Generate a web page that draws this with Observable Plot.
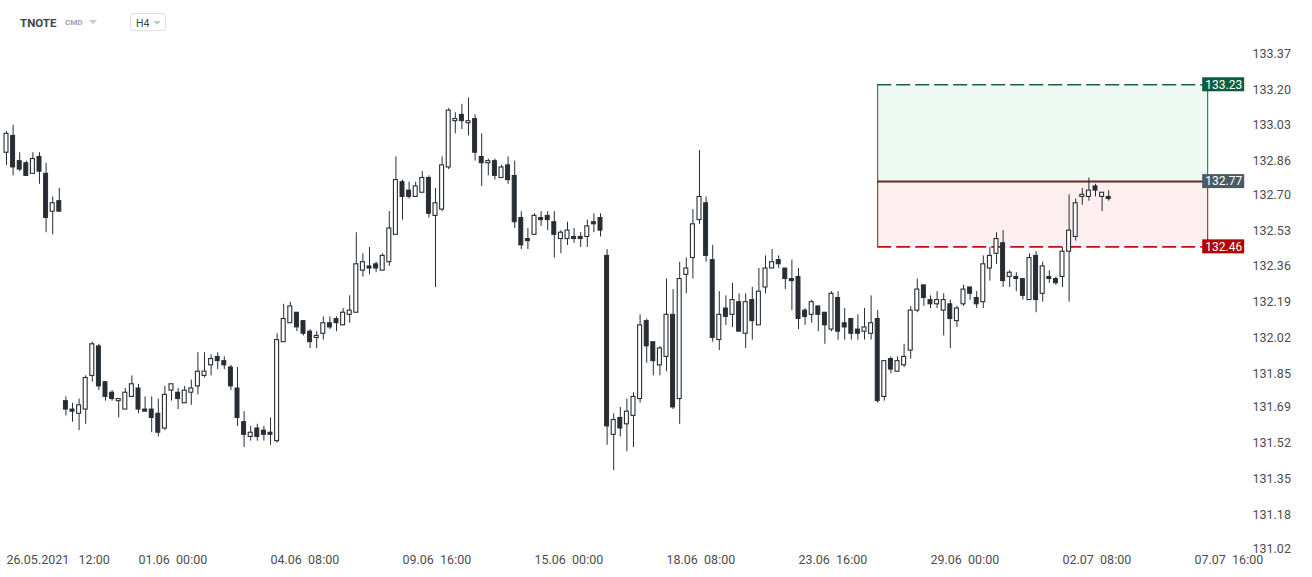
<!DOCTYPE html>
<html>
<head>
<meta charset="utf-8">
<script src="https://cdn.jsdelivr.net/npm/d3@7"></script>
<script src="https://cdn.jsdelivr.net/npm/@observablehq/plot@0.6"></script>
<style>
  html, body { margin: 0; padding: 0; background: #fff; }
  body { width: 1312px; height: 577px; overflow: hidden; font-family: Roboto, "Noto Sans", sans-serif; }
  #hdr { position: relative; height: 40px; }
  #hdr .sym { position: absolute; left: 20px; top: 16px; font-size: 11.5px; font-weight: 700; color: #3b444d; }
  #hdr .cmd { position: absolute; left: 65px; top: 18px; font-size: 8px; font-weight: 700; color: #9aa4ad; }
  #hdr .car1 { position: absolute; left: 89px; top: 20px; width: 0; height: 0; border-left: 4px solid transparent; border-right: 4px solid transparent; border-top: 4px solid #c3c9ce; }
  #hdr .tf { position: absolute; left: 130px; top: 13px; width: 36px; height: 18px; border: 1px solid #dde2e6; border-radius: 3px; box-sizing: border-box; }
  #hdr .tf span { position: absolute; left: 5px; top: 2.5px; font-size: 10.5px; color: #3b444d; }
  #hdr .tf i { position: absolute; left: 22px; top: 6.5px; width: 0; height: 0; border-left: 4px solid transparent; border-right: 4px solid transparent; border-top: 4px solid #c3c9ce; }
</style>
</head>
<body>
<div id="hdr">
  <span class="sym">TNOTE</span>
  <span class="cmd">CMD</span>
  <span class="car1"></span>
  <div class="tf"><span>H4</span><i></i></div>
</div>
<div id="chart"></div>
<script>
// ---- data (H4 candles) ----
const open = [132.90,132.98,132.86,132.85,132.80,132.88,132.80,132.62,132.67,131.72,
131.68,131.66,131.68,131.84,131.98,131.81,131.76,131.72,131.68,131.74,
131.78,131.68,131.68,131.66,131.59,131.77,131.76,131.71,131.76,131.79,
131.84,131.89,131.93,131.91,131.88,131.78,131.62,131.55,131.59,131.58,
131.57,131.53,132.00,132.09,132.14,132.10,132.05,132.02,132.04,132.09,
132.11,132.08,132.13,132.14,132.34,132.36,132.37,132.34,132.38,132.51,
132.76,132.72,132.69,132.71,132.78,132.60,132.63,132.83,133.05,133.08,
133.04,133.06,132.88,132.85,132.86,132.78,132.84,132.79,132.59,132.49,
132.51,132.59,132.60,132.57,132.49,132.49,132.50,132.50,132.50,132.57,
132.59,132.41,131.56,131.64,131.61,131.65,131.73,132.10,132.00,131.89,
131.93,132.13,131.73,132.32,132.40,132.58,132.66,132.39,132.01,132.16,
132.13,132.19,132.04,132.20,132.08,132.26,132.35,132.39,132.35,132.30,
132.31,132.15,132.13,132.17,132.14,132.06,132.21,132.09,132.11,132.06,
132.05,132.04,132.11,131.74,131.92,131.86,131.89,131.96,132.15,132.27,
132.20,132.18,132.15,132.18,132.10,132.18,132.26,132.21,132.19,132.35,
132.42,132.47,132.31,132.31,132.30,132.20,132.41,132.23,132.31,132.30,
132.31,132.43,132.50,132.69,132.69,132.74,132.69,132.69];
const high = [133.00,133.03,132.90,132.86,132.90,132.90,132.85,132.69,132.73,131.74,
131.71,131.73,131.84,132.00,131.99,131.81,131.77,131.73,131.78,131.84,
131.80,131.74,131.74,131.73,131.79,131.80,131.78,131.79,131.82,131.95,
131.95,131.94,131.95,131.93,131.89,131.88,131.67,131.60,131.61,131.60,
131.64,132.04,132.18,132.19,132.14,132.10,132.06,132.05,132.12,132.12,
132.12,132.16,132.22,132.52,132.42,132.45,132.38,132.42,132.62,132.88,
132.77,132.76,132.76,132.81,132.79,132.73,132.88,133.11,133.09,133.13,
133.16,133.08,132.99,132.87,132.87,132.84,132.88,132.86,132.62,132.54,
132.61,132.62,132.62,132.62,132.53,132.57,132.54,132.52,132.58,132.61,
132.61,132.44,131.66,131.69,131.73,131.76,132.13,132.11,132.00,131.98,
132.30,132.25,132.38,132.40,132.63,132.91,132.69,132.46,132.24,132.22,
132.28,132.23,132.23,132.26,132.35,132.41,132.44,132.41,132.35,132.39,
132.35,132.16,132.20,132.17,132.14,132.24,132.24,132.16,132.11,132.13,
132.16,132.22,132.15,131.91,131.93,131.93,131.99,132.17,132.30,132.27,
132.22,132.24,132.23,132.20,132.17,132.27,132.26,132.24,132.41,132.45,
132.52,132.53,132.34,132.33,132.30,132.42,132.43,132.38,132.34,132.31,
132.45,132.70,132.68,132.73,132.78,132.75,132.71,132.72];
const low = [132.84,132.79,132.81,132.79,132.80,132.75,132.52,132.51,132.62,131.65,
131.62,131.58,131.61,131.81,131.77,131.72,131.72,131.64,131.68,131.74,
131.66,131.67,131.57,131.55,131.58,131.72,131.68,131.71,131.70,131.75,
131.83,131.84,131.87,131.87,131.77,131.60,131.50,131.53,131.53,131.53,
131.51,131.52,132.00,132.09,132.05,132.03,131.97,131.97,132.01,132.06,
132.05,132.08,132.09,132.14,132.31,132.32,132.33,132.34,132.36,132.51,
132.58,132.68,132.69,132.71,132.59,132.26,132.62,132.82,132.99,133.01,
132.98,132.86,132.74,132.79,132.77,132.78,132.75,132.54,132.44,132.44,
132.51,132.55,132.53,132.40,132.42,132.46,132.47,132.45,132.45,132.52,
132.50,131.51,131.39,131.55,131.48,131.50,131.71,131.90,131.84,131.84,
131.86,131.68,131.61,132.23,132.30,132.56,132.38,132.00,131.96,132.08,
132.07,132.05,131.97,132.01,132.08,132.23,132.35,132.35,132.25,132.15,
132.06,132.08,132.09,132.05,131.99,132.05,132.01,132.01,132.01,132.01,
132.01,132.01,131.71,131.72,131.85,131.86,131.88,131.92,132.14,132.17,
132.16,132.16,132.03,131.97,132.07,132.17,132.20,132.16,132.16,132.29,
132.37,132.26,132.26,132.24,132.20,132.20,132.14,132.19,132.28,132.27,
132.26,132.19,132.48,132.65,132.67,132.69,132.62,132.67];
const close = [132.99,132.83,132.82,132.79,132.87,132.81,132.59,132.66,132.62,131.68,
131.67,131.70,131.83,131.99,131.79,131.74,131.73,131.73,131.76,131.80,
131.68,131.67,131.64,131.57,131.75,131.80,131.73,131.77,131.78,131.86,
131.86,131.92,131.91,131.89,131.79,131.64,131.56,131.57,131.55,131.56,
131.56,132.01,132.11,132.17,132.07,132.04,132.00,132.03,132.09,132.07,
132.09,132.14,132.15,132.37,132.38,132.35,132.35,132.41,132.54,132.77,
132.69,132.69,132.74,132.78,132.61,132.66,132.84,133.10,133.06,133.05,
133.05,132.90,132.85,132.86,132.79,132.83,132.77,132.57,132.46,132.48,
132.60,132.58,132.58,132.51,132.52,132.53,132.49,132.49,132.55,132.56,
132.53,131.60,131.63,131.59,131.67,131.74,132.08,131.98,131.91,131.97,
132.13,131.69,132.30,132.35,132.56,132.69,132.41,132.02,132.13,132.12,
132.20,132.05,132.19,132.10,132.24,132.35,132.38,132.37,132.30,132.29,
132.11,132.12,132.19,132.13,132.08,132.23,132.05,132.07,132.04,132.04,
132.07,132.09,131.72,131.91,131.87,131.91,131.93,132.15,132.25,132.21,
132.18,132.20,132.20,132.11,132.16,132.25,132.23,132.18,132.37,132.41,
132.49,132.29,132.33,132.30,132.22,132.40,132.20,132.36,132.30,132.28,
132.43,132.53,132.66,132.70,132.72,132.72,132.71,132.68];

// x-axis tick labels (candle index -> label)
const xTickIndex = [0, 20, 40, 60, 80, 100, 120, 140, 160, 180];
const xTickLabels = ["26.05.2021   12:00", "01.06  00:00", "04.06  08:00", "09.06  16:00", "15.06  00:00",
                     "18.06  08:00", "23.06  16:00", "29.06  00:00", "02.07  08:00", "07.07  16:00"];
// y-axis tick labels
const yTicks = [131.02,131.18,131.35,131.52,131.69,131.85,132.02,132.19,132.36,132.53,132.70,132.86,133.03,133.20,133.37];

// position tool (long position)
const positionStart = 132;   // candle index
const positionEnd = 182;     // candle index
const entryPrice = 132.77;
const takeProfit = 133.23;
const stopLoss = 132.46;

// ---- build ----
const candles = open.map((o, i) => ({i, o, h: high[i], l: low[i], c: close[i]}));
const up = candles.filter(d => d.c >= d.o);
const down = candles.filter(d => d.c < d.o);
const dark = "#272d33";
const tags = [
  {v: takeProfit, color: "#0b5e3d"},
  {v: entryPrice, color: "#4a5a65"},
  {v: stopLoss, color: "#b30000"}
];
const xt = xTickIndex.map((i, k) => ({i, label: xTickLabels[k].replace(/ /g, "\u00a0")}));
const pdy = 1.5;

const chart = Plot.plot({
  width: 1312,
  height: 537,
  marginLeft: 0,
  marginRight: 65,
  marginTop: 13.3,
  marginBottom: 29,
  x: {domain: [-0.909, 188.03], axis: null},
  y: {domain: [131.02, 133.37], axis: null},
  color: {type: "identity"},
  style: {fontFamily: "Roboto, sans-serif", fontSize: "12px", color: "#4d4d4d", background: "#fff"},
  marks: [
    // position zones
    Plot.rect([{a: positionStart, b: positionEnd, y1: entryPrice, y2: takeProfit}], {x1: "a", x2: "b", y1: "y1", y2: "y2", fill: "#eef9f4", dy: pdy}),
    Plot.rect([{a: positionStart, b: positionEnd, y1: stopLoss, y2: entryPrice}], {x1: "a", x2: "b", y1: "y1", y2: "y2", fill: "#fdefef", dy: pdy}),
    Plot.ruleX([positionStart, positionEnd], {y1: entryPrice, y2: takeProfit, stroke: "#1d5e45", strokeWidth: 1, dy: pdy}),
    Plot.ruleX([positionStart, positionEnd], {y1: stopLoss, y2: entryPrice, stroke: "#7a1f1f", strokeWidth: 1, dy: pdy}),
    Plot.ruleY([takeProfit], {x1: positionStart, x2: positionEnd, stroke: "#1d5e45", strokeWidth: 1.6, strokeDasharray: "14,5", dy: pdy}),
    Plot.ruleY([stopLoss], {x1: positionStart, x2: positionEnd, stroke: "#c01010", strokeWidth: 1.6, strokeDasharray: "14,5", dy: pdy}),
    Plot.ruleY([entryPrice], {x1: positionStart, x2: positionEnd, stroke: "#5a2e28", strokeWidth: 2, dy: pdy}),
    // candles
    Plot.ruleX(candles, {x: "i", y1: "l", y2: "h", stroke: dark, strokeWidth: 1}),
    Plot.rect(down, {x1: d => d.i - 0.3, x2: d => d.i + 0.3, y1: "o", y2: "c", fill: dark, stroke: dark, strokeWidth: 1}),
    Plot.rect(up, {x1: d => d.i - 0.3, x2: d => d.i + 0.3, y1: "o", y2: "c", fill: "#fff", stroke: dark, strokeWidth: 1.1}),
    // price tags
    Plot.rect(tags, {x1: positionEnd, x2: positionEnd, y1: "v", y2: "v", insetLeft: -5, insetRight: -37, insetTop: -7, insetBottom: -7, fill: "color", dy: pdy}),
    Plot.text(tags, {x: positionEnd, y: "v", text: d => d.v.toFixed(2), dx: 16, dy: pdy, fill: "#fff", fontSize: 12}),
    // axes
    Plot.axisY(yTicks, {anchor: "right", tickSize: 0, tickPadding: 5, tickFormat: d => d.toFixed(2), fontSize: 12.5, label: null}),
    Plot.text(xt, {x: "i", text: "label", frameAnchor: "bottom", textAnchor: "start", dy: 15, fontSize: 12.5, fill: "#4d4d4d"})
  ]
});
document.getElementById("chart").appendChild(chart);
</script>
</body>
</html>
